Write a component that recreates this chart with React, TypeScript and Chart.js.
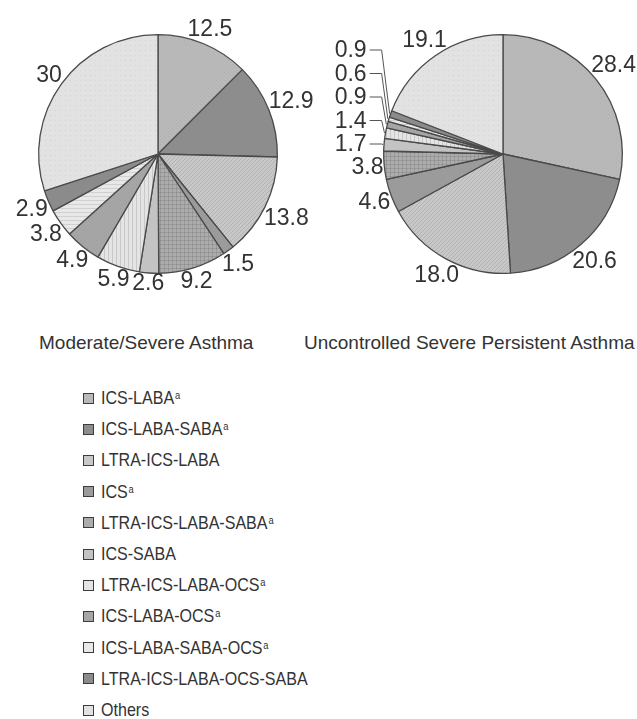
import React, { useEffect, useRef } from "react";
import { Chart, registerables } from "chart.js";

Chart.register(...registerables);

// ---------- data ----------
const categories = [
  "ICS-LABA",
  "ICS-LABA-SABA",
  "LTRA-ICS-LABA",
  "ICS",
  "LTRA-ICS-LABA-SABA",
  "ICS-SABA",
  "LTRA-ICS-LABA-OCS",
  "ICS-LABA-OCS",
  "ICS-LABA-SABA-OCS",
  "LTRA-ICS-LABA-OCS-SABA",
  "Others",
];
const footnoteA = [true, true, false, true, true, false, true, true, true, false, false];

const moderateSevere = [12.5, 12.9, 13.8, 1.5, 9.2, 2.6, 5.9, 4.9, 3.8, 2.9, 30];
const uncontrolledSevere = [28.4, 20.6, 18.0, 4.6, 3.8, 1.7, 1.4, 0.9, 0.6, 0.9, 19.1];

const chartTitles = ["Moderate/Severe Asthma", "Uncontrolled Severe Persistent Asthma"];

// ---------- styles ----------
const sliceColors = [
  "#b9b9b9",
  "#8d8d8d",
  "#c8c8c8",
  "#9b9b9b",
  "#acacac",
  "#c3c3c3",
  "#e4e4e4",
  "#a6a6a6",
  "#e8e8e8",
  "#8b8b8b",
  "#e2e2e2",
];
const slicePatterns = ["fine", "none", "diag", "none", "grid", "none", "vert", "fine", "horiz", "none", "dots"];

const TEXT_COLOR = "#333333";
const LABEL_FONT = "23px 'Liberation Sans', Arial, sans-serif";

function makeFill(color: string, kind: string): any {
  if (kind === "none") return color;
  const c = document.createElement("canvas");
  const s = kind === "dots" ? 5 : 4;
  c.width = s;
  c.height = s;
  const g = c.getContext("2d")!;
  g.fillStyle = color;
  g.fillRect(0, 0, s, s);
  g.fillStyle = "rgba(0,0,0,0.10)";
  if (kind === "diag") {
    for (let i = 0; i < s; i++) g.fillRect(i, s - 1 - i, 1, 1);
  } else if (kind === "grid") {
    g.fillRect(0, 0, s, 1);
    g.fillRect(0, 0, 1, s);
  } else if (kind === "vert") {
    g.fillStyle = "rgba(0,0,0,0.12)";
    g.fillRect(0, 0, 1, s);
  } else if (kind === "horiz") {
    g.fillStyle = "rgba(0,0,0,0.10)";
    g.fillRect(0, 0, s, 1);
  } else if (kind === "dots") {
    g.fillStyle = "rgba(0,0,0,0.07)";
    g.fillRect(0, 0, 1, 1);
  } else if (kind === "fine") {
    g.fillStyle = "rgba(0,0,0,0.05)";
    g.fillRect(0, 0, 1, 1);
    g.fillRect(2, 2, 1, 1);
  }
  return g.createPattern(c, "repeat");
}

// ---------- outside-label plugin ----------
const outLabels = {
  id: "outLabels",
  afterDatasetsDraw(chart: any, _args: any, opts: any) {
    const ctx = chart.ctx as CanvasRenderingContext2D;
    const meta = chart.getDatasetMeta(0);
    const data = chart.data.datasets[0].data as number[];
    ctx.save();
    ctx.font = opts.font;
    ctx.fillStyle = opts.color;
    ctx.strokeStyle = "#555";
    ctx.lineWidth = 1;
    ctx.textBaseline = "middle";
    let stackIdx = 0;
    meta.data.forEach((arc: any, i: number) => {
      const { x, y, startAngle, endAngle, outerRadius } = arc.getProps(
        ["x", "y", "startAngle", "endAngle", "outerRadius"],
        true
      );
      const mid = (startAngle + endAngle) / 2;
      const cos = Math.cos(mid);
      const sin = Math.sin(mid);
      const text = opts.format(data[i]);
      const w = ctx.measureText(text).width;
      if (data[i] < opts.stackBelow) {
        const ly = y + opts.stackStartDy - stackIdx * opts.stackStep;
        const right = x - outerRadius - opts.stackGap;
        ctx.textAlign = "right";
        ctx.fillText(text, right, ly + 1);
        ctx.beginPath();
        ctx.moveTo(right + 3, ly);
        ctx.lineTo(x - outerRadius - 2, ly);
        ctx.lineTo(x + cos * (outerRadius + 1), y + sin * (outerRadius + 1));
        ctx.stroke();
        stackIdx++;
        return;
      }
      const d = outerRadius + opts.pad + (Math.abs(cos) * w) / 2 + (Math.abs(sin) * opts.textHeight) / 2;
      ctx.textAlign = "center";
      ctx.fillText(text, x + cos * d, y + sin * d + 1);
    });
    ctx.restore();
  },
};

type PieProps = {
  values: number[];
  width: number;
  height: number;
  padding: { left: number; right: number; top: number; bottom: number };
  format: (v: number) => string;
  stackBelow: number;
};

function PieCanvas({ values, width, height, padding, format, stackBelow }: PieProps) {
  const ref = useRef<HTMLCanvasElement | null>(null);
  useEffect(() => {
    if (!ref.current) return;
    const fills = sliceColors.map((c, i) => makeFill(c, slicePatterns[i]));
    const chart = new Chart(ref.current, {
      type: "pie",
      data: {
        labels: categories,
        datasets: [
          {
            data: values,
            backgroundColor: fills,
            borderColor: "#4a4a4a",
            borderWidth: 1.3,
            hoverOffset: 0,
            offset: 0,
          } as any,
        ],
      },
      options: {
        responsive: false,
        animation: false,
        devicePixelRatio: 1,
        events: [],
        layout: { padding },
        plugins: {
          legend: { display: false },
          tooltip: { enabled: false },
          outLabels: {
            font: LABEL_FONT,
            color: TEXT_COLOR,
            format,
            pad: 0,
            textHeight: 17,
            stackBelow,
            stackStartDy: -10,
            stackStep: 23.5,
            stackGap: 17,
          },
        } as any,
      },
      plugins: [outLabels as any],
    });
    return () => chart.destroy();
  }, []);
  return <canvas ref={ref} width={width} height={height} style={{ width, height, display: "block" }} />;
}

export default function App() {
  const legendFont = "'Liberation Sans', Arial, sans-serif";
  return (
    <div
      style={{
        position: "absolute",
        left: 0,
        top: 0,
        width: 637,
        height: 719,
        background: "#fff",
        overflow: "hidden",
        fontFamily: "'Liberation Sans', Arial, sans-serif",
        color: TEXT_COLOR,
      }}
    >
      <div style={{ position: "absolute", left: 0, top: 0 }}>
        <PieCanvas
          values={moderateSevere}
          width={318}
          height={300}
          padding={{ left: 38, right: 40, top: 34, bottom: 26 }}
          format={(v) => String(v)}
          stackBelow={0}
        />
      </div>
      <div style={{ position: "absolute", left: 318, top: 0 }}>
        <PieCanvas
          values={uncontrolledSevere}
          width={319}
          height={300}
          padding={{ left: 65, right: 14, top: 34, bottom: 26 }}
          format={(v) => v.toFixed(1)}
          stackBelow={2}
        />
      </div>
      <div
        style={{
          position: "absolute",
          left: 39,
          top: 332,
          fontSize: 19,
          lineHeight: "22px",
          whiteSpace: "nowrap",
        }}
      >
        {chartTitles[0]}
      </div>
      <div
        style={{
          position: "absolute",
          left: 304,
          top: 332,
          fontSize: 19,
          lineHeight: "22px",
          whiteSpace: "nowrap",
        }}
      >
        {chartTitles[1]}
      </div>
      {categories.map((cat, i) => (
        <div
          key={cat}
          style={{
            position: "absolute",
            left: 83,
            top: 388 + i * 31.2,
            height: 20,
            display: "flex",
            alignItems: "center",
            whiteSpace: "nowrap",
          }}
        >
          <span
            style={{
              display: "inline-block",
              width: 9,
              height: 9,
              border: "1.5px solid #3c3c3c",
              background: sliceColors[i],
              marginRight: 7,
            }}
          />
          <span
            style={{
              display: "inline-block",
              fontFamily: legendFont,
              fontSize: 19,
              lineHeight: "20px",
              transform: "scaleX(0.845)",
              transformOrigin: "left center",
            }}
          >
            {cat}
            {footnoteA[i] ? (
              <sup style={{ fontSize: 11, verticalAlign: "top", lineHeight: "14px", marginLeft: 1 }}>a</sup>
            ) : null}
          </span>
        </div>
      ))}
    </div>
  );
}
